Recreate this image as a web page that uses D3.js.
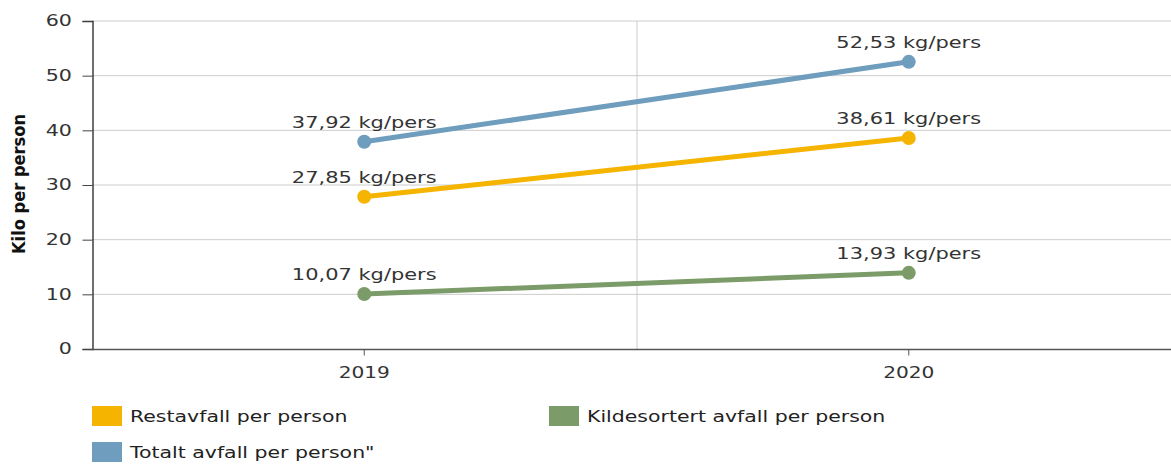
<!DOCTYPE html>
<meta charset="utf-8">
<script src="https://d3js.org/d3.v7.min.js"></script>
<style>
  body { margin: 0; background: #fff; }
  text { font-family: "DejaVu Sans", Verdana, sans-serif; }
</style>
<svg id="chart" width="1171" height="464"></svg>
<script>
// data
var years = ["2019", "2020"]
var restavfall = [27.85, 38.61]
var kildesortert = [10.07, 13.93]
var totalt = [37.92, 52.53]
var yTicks = [0, 10, 20, 30, 40, 50, 60]

var seriesNames = ["Restavfall per person", "Kildesortert avfall per person", "Totalt avfall per person\""]
var seriesColors = ["#f4b400", "#7b9c68", "#6e9dbd"]

var svg = d3.select("#chart")

var x = d3.scaleBand().domain(years).range([92, 1181]).padding(0)
var y = d3.scaleLinear().domain([0, 60]).range([349, 21])

// the original text is a wide Verdana, stretch DejaVu horizontally
var stretch = 1.27

// text at (px,py) stretched around its anchor
function wideText(sel, px, py, sx) {
    return sel.append("text")
        .attr("transform", "translate(" + px + "," + py + ") scale(" + sx + ",1)")
}

// horizontal gridlines
svg.append("g")
    .selectAll("line")
    .data(yTicks.slice(1))
    .enter().append("line")
    .attr("x1", 92).attr("x2", 1171)
    .attr("y1", d => y(d)).attr("y2", d => y(d))
    .style("stroke", "#cccccc")
    .style("stroke-width", 1)

// vertical gridline between categories
svg.append("line")
    .attr("x1", x("2020") + 0.5).attr("x2", x("2020") + 0.5)
    .attr("y1", y(60)).attr("y2", y(0))
    .style("stroke", "#cccccc")

// y axis
var yAxis = svg.append("g")
    .attr("transform", "translate(92.5,0)")
    .call(d3.axisLeft(y).tickValues(yTicks).tickSize(10).tickPadding(5.5))
yAxis.select(".domain").attr("stroke", "#222").attr("stroke-width", 1.3)
yAxis.selectAll(".tick line").attr("stroke", "#444")
yAxis.selectAll("text")
    .style("font-size", "15.5px").attr("fill", "#333")
    .attr("transform", "scale(1.33,1)")

// x axis
var xAxis = svg.append("g")
    .attr("transform", "translate(0," + (y(0) + 0.5) + ")")
    .call(d3.axisBottom(x).tickSizeInner(6).tickSizeOuter(0).tickPadding(12))
xAxis.select(".domain").attr("d", "M92,0H1171").attr("stroke", "#555").attr("stroke-width", 1.5)
xAxis.selectAll(".tick line").attr("stroke", "#555")
xAxis.selectAll("text")
    .style("font-size", "15.5px").attr("fill", "#333")
    .attr("transform", "scale(1.3,1)")

// y axis title (narrow bold in the original)
svg.append("text")
    .attr("transform", "translate(25," + (y(30) - 1) + ") rotate(-90) scale(0.88,1)")
    .attr("text-anchor", "middle")
    .style("font-weight", "bold")
    .style("font-size", "18.5px")
    .attr("fill", "#111")
    .text("Kilo per person")

var allSeries = [restavfall, kildesortert, totalt]
var fmt = v => d3.format(".2f")(v).replace(".", ",") + " kg/pers"

var line = d3.line()
    .x((d, i) => x(years[i]) + x.bandwidth() / 2)
    .y(d => y(d))

// draw in order: green, orange, blue on top
;[1, 0, 2].forEach(function(s) {
    var vals = allSeries[s]
    var g = svg.append("g")
    g.append("path")
        .datum(vals)
        .attr("d", line)
        .attr("fill", "none")
        .attr("stroke", seriesColors[s])
        .attr("stroke-width", 5)
    g.selectAll("circle")
        .data(vals)
        .enter().append("circle")
        .attr("cx", (d, i) => x(years[i]) + x.bandwidth() / 2)
        .attr("cy", d => y(d))
        .attr("r", 7)
        .attr("fill", seriesColors[s])
    vals.forEach(function(v, i) {
        wideText(g, x(years[i]) + x.bandwidth() / 2, y(v) - 14, stretch)
            .attr("text-anchor", "middle")
            .style("font-size", "16.5px")
            .attr("fill", "#333")
            .text(fmt(v))
    })
})

// legend
var legendPos = [[92, 406], [549, 406], [92, 442]]
var legend = svg.append("g")
seriesNames.forEach(function(name, i) {
    legend.append("rect")
        .attr("x", legendPos[i][0]).attr("y", legendPos[i][1])
        .attr("width", 30).attr("height", 20)
        .attr("fill", seriesColors[i])
    wideText(legend, legendPos[i][0] + 38, legendPos[i][1] + 11, 1.24)
        .attr("dominant-baseline", "middle")
        .style("font-size", "16.5px")
        .attr("fill", "#222")
        .text(name)
})
</script>
